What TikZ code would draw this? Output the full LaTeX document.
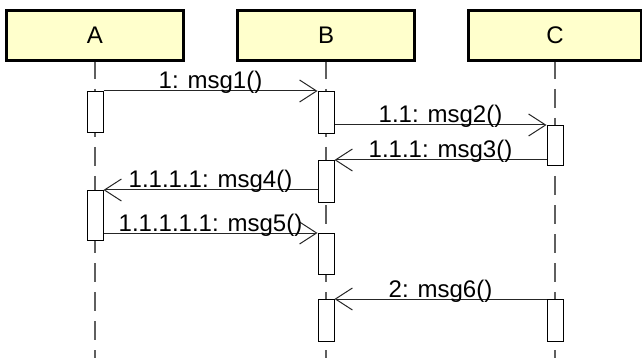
\documentclass[tikz,border=0pt]{standalone}
\usepackage{fontspec}
\setmainfont{Liberation Sans}
\usetikzlibrary{arrows.meta}
\definecolor{hdrfill}{RGB}{255,255,204}
\definecolor{lifegray}{RGB}{95,95,95}
\begin{document}
\begin{tikzpicture}[x=1pt,y=-1pt,
  font=\fontsize{24}{28}\selectfont,
  header/.style={draw=black, line width=3pt, fill=hdrfill, minimum height=50pt, inner sep=0pt},
  life/.style={draw=lifegray, line width=1.3pt, dash pattern=on 19pt off 10pt, dash phase=2pt},
  act/.style={draw=black, line width=1pt, fill=white, minimum width=16pt, inner sep=0pt, anchor=north},
  msg/.style={draw=black!85, line width=1pt, -{Straight Barb[length=17pt,width=22pt]}},
  lbl/.style={anchor=base, yshift=2pt, inner sep=0pt, text=black}]
\useasboundingbox (0,0) rectangle (642,358);
% headers
\node[header, minimum width=177pt] (A) at (95,35.5) {A};
\node[header, minimum width=177pt] (B) at (326,35.5) {B};
\node[header, minimum width=173pt] (C) at (555,35.5) {C};
% lifeline ends
\coordinate (Aend) at (95,360);
\coordinate (Bend) at (326,360);
\coordinate (Cend) at (555,360);
\draw[life] (A.south) -- (Aend);
\draw[life] (B.south) -- (Bend);
\draw[life] (C.south) -- (Cend);
% activation boxes
\node[act, minimum height=41pt] (A1) at (95,91) {};
\node[act, minimum height=50pt] (A2) at (95,190) {};
\node[act, minimum height=42pt] (B1) at (326,91) {};
\node[act, minimum height=42pt] (B2) at (326,160) {};
\node[act, minimum height=41pt] (B3) at (326,233) {};
\node[act, minimum height=42pt] (B4) at (326,299) {};
\node[act, minimum height=40pt] (C1) at (555,125) {};
\node[act, minimum height=42pt] (C2) at (555,299) {};
% messages
\draw[msg] (A1.north east) -- node[lbl] {1: msg1()} (B1.north west);
\draw[msg] (B1.east |- C1.north) -- node[lbl] {1.1: msg2()} (C1.north west);
\draw[msg] (C1.west |- B2.north) -- node[lbl] {1.1.1: msg3()} (B2.north east);
\draw[msg] (B2.west |- A2.north) -- node[lbl] {1.1.1.1: msg4()} (A2.north east);
\draw[msg] (A2.east |- B3.north) -- node[lbl] {1.1.1.1.1: msg5()} (B3.north west);
\draw[msg] (C2.north west) -- node[lbl] {2: msg6()} (B4.north east);
\end{tikzpicture}
\end{document}
